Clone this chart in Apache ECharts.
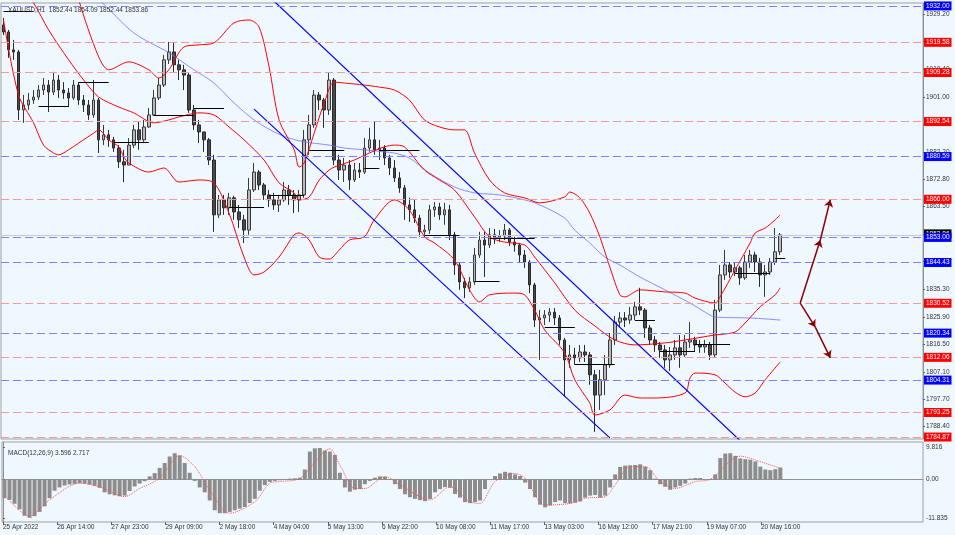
<!DOCTYPE html>
<html><head><meta charset="utf-8">
<script src="https://cdn.jsdelivr.net/npm/echarts@6/dist/echarts.min.js"></script>
<style>html,body{margin:0;padding:0;background:#f0f8ff;}#c{width:955px;height:535px;}</style>
</head><body><div id="c"></div>
<script>
const symbolTitle = 'XAUUSD,H1  1852.44 1854.09 1852.44 1853.86';
const macdTitle = 'MACD(12,26,9) 3.596 2.717';
const slotCount = 184;
// [open, close, low, high]
const candles = [
[1925.5,1923.1,1922.1,1927.9],[1923.1,1917.0,1914.3,1923.8],[1917.0,1916.3,1913.6,1920.4],[1916.3,1896.5,1893.1,1917.0],[1896.5,1898.2,1892.1,1901.6],
[1898.2,1899.9,1896.5,1902.3],[1899.9,1900.9,1898.6,1903.3],[1900.9,1903.3,1899.9,1905.0],[1903.3,1905.0,1901.6,1907.4],[1905.0,1902.6,1895.8,1906.7],
[1902.6,1906.7,1901.6,1909.5],[1906.7,1903.3,1900.6,1908.4],[1903.3,1902.3,1900.3,1906.0],[1902.3,1900.6,1897.5,1904.0],[1900.6,1905.0,1899.9,1906.7],
[1905.0,1899.9,1898.2,1906.0],[1899.9,1898.2,1895.8,1901.6],[1898.2,1894.8,1893.1,1899.9],[1894.8,1899.9,1893.8,1906.7],[1899.9,1886.3,1881.8,1900.6],
[1886.3,1888.0,1884.5,1891.4],[1888.0,1886.3,1883.9,1889.7],[1886.3,1883.5,1882.2,1887.3],[1883.5,1878.8,1876.7,1884.5],[1878.8,1877.7,1871.9,1882.9],
[1877.7,1884.5,1877.7,1886.9],[1884.5,1889.7,1883.5,1891.4],[1889.7,1886.3,1882.9,1892.4],[1886.3,1890.7,1885.6,1893.1],[1890.7,1894.8,1890.4,1897.2],
[1894.8,1900.6,1894.4,1903.3],[1900.6,1905.0,1899.9,1907.4],[1905.0,1913.6,1904.3,1915.3],[1913.6,1916.3,1912.2,1919.7],[1916.3,1911.9,1909.5,1919.7],
[1911.9,1910.2,1906.7,1913.6],[1910.2,1908.4,1903.3,1911.9],[1908.4,1896.5,1895.5,1909.1],[1896.5,1891.4,1889.7,1898.2],[1891.4,1889.0,1885.2,1893.1],
[1889.0,1886.3,1882.2,1889.0],[1886.3,1879.4,1877.7,1886.9],[1879.4,1860.7,1854.9,1881.2],[1860.7,1865.8,1859.6,1867.5],[1865.8,1863.1,1860.7,1867.5],
[1863.1,1866.5,1860.7,1868.2],[1866.5,1861.7,1859.0,1867.2],[1861.7,1859.0,1856.2,1864.1],[1859.0,1855.5,1851.1,1860.7],[1855.5,1869.2,1853.9,1873.3],
[1869.2,1875.3,1868.5,1878.4],[1875.3,1870.9,1869.2,1876.0],[1870.9,1867.5,1865.8,1871.6],[1867.5,1865.8,1863.4,1869.2],[1865.8,1864.1,1862.4,1868.2],
[1864.1,1865.8,1861.7,1867.5],[1865.8,1869.2,1865.1,1871.9],[1869.2,1867.5,1864.1,1870.9],[1867.5,1865.8,1861.3,1869.2],[1865.8,1867.5,1861.7,1869.2],
[1867.5,1886.3,1866.5,1889.7],[1886.3,1891.4,1881.2,1894.8],[1891.4,1901.6,1890.4,1903.3],[1901.6,1899.9,1896.5,1902.6],[1899.9,1896.5,1890.4,1900.6],
[1896.5,1906.7,1894.8,1909.1],[1906.7,1879.4,1877.7,1907.4],[1879.4,1876.0,1872.6,1881.2],[1876.0,1877.7,1871.9,1880.1],[1877.7,1872.6,1869.2,1879.4],
[1872.6,1876.0,1871.9,1878.4],[1876.0,1875.3,1873.3,1878.4],[1875.3,1883.5,1874.6,1886.9],[1883.5,1886.3,1882.2,1890.4],[1886.3,1882.9,1881.2,1892.4],
[1882.9,1883.5,1879.4,1886.3],[1883.5,1880.1,1877.7,1884.5],[1880.1,1876.7,1874.3,1881.2],[1876.7,1873.3,1871.9,1879.4],[1873.3,1869.9,1868.2,1875.3],
[1869.9,1864.1,1859.0,1870.9],[1864.1,1862.4,1858.3,1866.5],[1862.4,1859.6,1857.9,1865.8],[1859.6,1854.9,1853.2,1860.7],[1854.9,1855.5,1852.8,1857.3],
[1855.5,1862.4,1854.2,1864.1],[1862.4,1863.4,1860.0,1865.1],[1863.4,1860.7,1859.0,1864.8],[1860.7,1862.4,1857.3,1864.8],[1862.4,1853.9,1852.1,1864.1],
[1853.9,1843.6,1840.2,1854.9],[1843.6,1837.8,1835.1,1844.6],[1837.8,1835.8,1832.3,1839.2],[1835.8,1837.8,1834.4,1839.5],[1837.8,1847.0,1836.8,1849.4],
[1847.0,1852.1,1846.0,1854.9],[1852.1,1850.4,1839.5,1854.9],[1850.4,1853.9,1849.4,1856.2],[1853.9,1852.8,1850.8,1855.9],[1852.8,1853.5,1851.4,1855.5],
[1853.5,1855.5,1852.1,1857.6],[1855.5,1851.4,1850.1,1856.2],[1851.4,1850.4,1848.1,1853.2],[1850.4,1847.0,1844.6,1851.1],[1847.0,1844.6,1842.6,1848.7],
[1844.6,1836.8,1834.0,1845.3],[1836.8,1824.8,1822.4,1837.5],[1824.8,1825.5,1811.2,1828.2],[1825.5,1826.5,1823.1,1828.2],[1826.5,1827.5,1824.1,1828.9],
[1827.5,1825.5,1823.1,1828.9],[1825.5,1818.0,1816.3,1826.5],[1818.0,1811.2,1798.6,1818.7],[1811.2,1812.9,1808.5,1816.3],[1812.9,1811.9,1809.5,1815.3],
[1811.9,1813.9,1810.5,1816.3],[1813.9,1812.9,1810.5,1816.3],[1812.9,1806.1,1802.7,1813.9],[1806.1,1799.2,1786.6,1807.8],[1799.2,1804.4,1794.1,1807.8],
[1804.4,1809.5,1799.2,1812.9],[1809.5,1818.0,1808.5,1820.4],[1818.0,1824.1,1816.3,1826.2],[1824.1,1825.5,1822.4,1827.5],[1825.5,1824.8,1822.4,1827.5],
[1824.8,1826.5,1823.5,1829.3],[1826.5,1829.3,1824.8,1831.0],[1829.3,1828.2,1826.5,1835.8],[1828.2,1822.1,1818.7,1828.9],[1822.1,1818.0,1816.3,1823.1],
[1818.0,1816.3,1813.9,1819.4],[1816.3,1814.6,1811.9,1817.3],[1814.6,1811.2,1808.5,1816.3],[1811.2,1812.9,1807.4,1815.6],[1812.9,1815.3,1811.2,1818.0],
[1815.3,1812.9,1808.5,1819.7],[1812.9,1817.3,1812.2,1819.7],[1817.3,1818.0,1815.3,1824.1],[1818.0,1816.3,1813.9,1819.1],[1816.3,1815.6,1813.6,1818.0],
[1815.6,1816.3,1813.6,1818.0],[1816.3,1812.9,1811.2,1817.3],[1812.9,1828.2,1811.9,1831.7],[1828.2,1840.2,1827.5,1843.6],[1840.2,1843.6,1838.5,1848.7],
[1843.6,1841.2,1839.2,1844.6],[1841.2,1842.6,1839.8,1844.6],[1842.6,1839.2,1836.8,1843.3],[1839.2,1844.6,1838.5,1847.0],[1844.6,1847.0,1842.6,1848.7],
[1847.0,1844.6,1841.2,1848.1],[1844.6,1840.2,1836.1,1846.0],[1840.2,1841.2,1832.7,1843.6],[1841.2,1844.6,1840.2,1846.0],[1844.6,1848.1,1843.6,1856.2],
[1848.1,1853.86,1847.0,1854.5]
];
const bbUpper = [[14,1942.6],[15,1934.1],[19,1914.6],[21,1910.2],[25,1912.9],[29,1910.2],[31,1907.4],[33,1910.2],[36,1918.0],[39,1918.7],[42,1919.4],[46,1926.2],[49,1927.2],[51,1924.8],[53,1911.2],[55,1893.1],[58,1882.9],[59,1877.0],[60,1878.4],[62,1888.6],[64,1898.9],[66,1906.0],[68,1905.7],[72,1905.0],[75,1904.3],[78,1903.3],[81,1899.9],[84,1893.1],[87,1890.7],[90,1889.7],[92,1889.7],[94,1881.8],[97,1872.6],[100,1868.2],[104,1866.5],[107,1864.8],[112,1866.8],[113,1868.5],[115,1866.5],[117,1861.3],[119,1853.2],[121,1842.9],[123,1833.4],[124,1832.7],[127,1835.1],[132,1834.4],[136,1834.0],[138,1832.3],[142,1830.6],[143,1832.7],[146,1841.9],[149,1851.1],[150,1854.5],[152,1856.2],[154,1859.0],[155,1860.7]];
const bbMiddle = [[2,1941.6],[6,1933.0],[9,1923.8],[13,1913.6],[16,1906.7],[19,1900.9],[23,1897.5],[26,1895.5],[30,1892.1],[33,1893.1],[35,1894.1],[39,1895.5],[42,1894.8],[45,1890.7],[48,1886.3],[52,1879.4],[55,1871.6],[58,1868.2],[59,1865.8],[61,1866.8],[63,1872.6],[65,1876.0],[66,1877.0],[70,1879.4],[73,1881.8],[76,1883.9],[78,1884.5],[80,1883.9],[84,1876.0],[87,1872.6],[90,1869.2],[94,1860.0],[97,1853.2],[100,1851.4],[104,1850.4],[106,1846.3],[110,1837.5],[114,1828.2],[118,1822.8],[122,1818.0],[126,1816.3],[132,1817.0],[136,1818.0],[142,1819.7],[146,1820.7],[148,1823.8],[151,1829.3],[154,1833.4],[155,1835.8]];
const bbLower = [[0,1927.2],[3,1901.6],[6,1892.1],[8,1884.5],[10,1881.8],[11,1881.2],[13,1882.9],[15,1885.2],[18,1888.6],[19,1889.7],[21,1886.3],[23,1883.9],[24,1880.5],[25,1878.4],[29,1875.3],[32,1876.7],[35,1871.9],[39,1872.6],[42,1871.6],[45,1861.3],[48,1846.3],[50,1840.2],[52,1841.2],[55,1846.3],[58,1853.9],[59,1854.5],[61,1852.1],[63,1846.3],[65,1845.6],[67,1848.7],[69,1852.1],[72,1853.2],[74,1859.0],[78,1865.8],[81,1862.4],[84,1853.2],[86,1851.1],[90,1845.3],[93,1835.1],[95,1831.0],[97,1833.4],[102,1834.0],[104,1833.4],[106,1828.2],[108,1821.4],[112,1813.6],[114,1804.4],[117,1796.5],[118,1792.4],[121,1794.1],[124,1799.2],[127,1798.2],[130,1798.2],[136,1799.9],[137,1805.0],[138,1806.7],[142,1806.1],[144,1803.3],[146,1800.2],[148,1798.6],[150,1799.9],[152,1804.4],[155,1810.5]];
const maLine = [[15,1938.1],[19,1934.1],[26,1922.8],[33,1916.0],[38,1910.2],[42,1905.7],[46,1898.9],[50,1893.1],[54,1889.0],[57,1886.9],[60,1885.6],[65,1884.5],[68,1883.5],[72,1882.9],[76,1882.2],[78,1881.8],[81,1880.1],[85,1875.0],[90,1870.2],[94,1868.2],[99,1867.5],[104,1865.8],[107,1864.1],[112,1859.6],[114,1855.5],[117,1851.1],[120,1846.3],[123,1843.6],[127,1839.5],[132,1835.1],[137,1830.6],[141,1826.5],[142,1825.8],[149,1825.5],[155,1824.8]];
const priceTicks = [1929.20,1919.80,1910.40,1901.00,1891.60,1882.20,1872.80,1863.50,1854.10,1844.70,1835.30,1825.90,1816.50,1807.10,1797.70,1788.40];
const blueLevels = [1932.00,1880.59,1853.00,1844.43,1820.34,1804.31];
const redLevels = [1919.58,1909.28,1892.54,1866.00,1830.52,1812.06,1793.25,1784.87];
const bidPrice = 1853.86;
// [fromSlot, toSlot, price]
const segments = [[0,6,1930.3],[7,13,1897.9],[15,21,1906.1],[22,29,1885.6],[30,38,1894.8],[38,44,1897.2],[45,52,1863.4],[53,60,1867.5],[61,68,1882.9],[72,75,1876.7],[75,83,1882.9],[84,91,1853.8],[94,99,1838.1],[97,106,1852.8],[108,114,1822.4],[114,122,1809.8],[126,130,1824.8],[131,138,1814.3],[138,145,1816.6],[146,153,1840.9],[154,156,1846.0]];
const channelUpper = [[54,1933.6],[147,1783.65]];
const channelLower = [[50,1896.8],[121,1784.6]];
const arrowUp = [[159,1830.6],[163,1852.1],[165,1865.8]];
const arrowDown = [[159,1830.6],[162,1822.4],[165,1811.9]];
const macdHist = [-5.8,-6.3,-7.5,-9.2,-11.2,-11.8,-11.3,-10.0,-8.3,-5.8,
-3.5,-2.5,-1.9,-1.6,-1.4,-1.2,-1.3,-1.6,-2.0,-2.6,
-4.0,-4.6,-4.9,-5.2,-5.0,-3.6,-2.2,-1.3,-0.6,0.9,
1.9,3.5,5.0,7.0,8.0,7.3,5.0,2.0,-0.5,-2.5,
-4.0,-6.5,-9.5,-10.4,-10.4,-10.0,-9.5,-9.0,-8.5,-7.3,
-6.0,-3.5,-1.8,-0.8,-0.5,-0.3,-0.1,0.2,0.3,0.5,
3.0,8.5,9.5,9.6,8.8,8.5,7.5,2.0,-2.5,-3.8,
-3.2,-3.0,-1.5,-0.5,0.5,0.9,0.8,0.0,-1.5,-3.0,
-4.6,-5.5,-6.0,-6.4,-6.7,-6.0,-4.0,-3.0,-2.4,-2.6,
-4.5,-5.6,-7.0,-7.3,-7.0,-6.5,-3.0,0.0,1.0,1.8,
2.3,2.0,1.5,1.0,-1.0,-3.0,-5.5,-7.8,-8.6,-8.0,
-7.0,-6.5,-7.3,-7.4,-7.2,-6.8,-5.6,-5.0,-4.8,-5.6,
-5.0,-2.5,1.5,3.8,4.2,4.3,4.4,4.6,3.8,2.8,
0.2,-1.5,-2.3,-3.2,-2.5,-2.0,-1.3,0.2,0.4,0.4,
0.0,-0.1,1.5,6.5,7.9,8.0,7.2,6.4,6.2,6.0,
5.5,3.9,3.0,2.8,3.1,3.6];
const macdSignal = [[0,-4.8],[5,-11.3],[9,-6.3],[15,-1.2],[19,-2.3],[24,-5.3],[27,-2.8],[31,0.3],[35,7.3],[38,3.9],[41,-3.3],[45,-10.4],[50,-6.9],[53,-1.2],[55,-0.7],[59,0.3],[65,9.3],[67,4.4],[70,-2.8],[72,-2.8],[76,0.8],[79,-1.7],[85,-6.3],[89,-2.3],[93,-6.9],[95,-7.4],[98,-0.7],[102,1.8],[104,0.3],[108,-7.9],[113,-7.4],[116,-5.8],[120,-5.3],[122,-1.7],[125,3.9],[128,3.9],[131,-0.7],[134,-2.8],[138,-0.7],[141,0.0],[147,7.1],[151,5.4],[155,3.4]];
const macdTicks = [9.816, 0, -11.835];
const timeTickHours = [0,33,66,99,132,165,198,231,264,297,330,363,396,429,462];
const timeTickLabels = ['25 Apr 2022','26 Apr 14:00','27 Apr 23:00','29 Apr 09:00','2 May 18:00','4 May 04:00','5 May 13:00','6 May 22:00','10 May 08:00','11 May 17:00','13 May 03:00','16 May 12:00','17 May 21:00','19 May 07:00','20 May 16:00'];

const FONT = 'Liberation Sans';
const FS = 6.5;
const categories = Array.from({length: slotCount}, (_, i) => i);

function levelItem(v, lineColor, boxColor) {
  return {
    yAxis: v,
    lineStyle: {color: lineColor, type: [8, 4], width: 1},
    label: {show: true, position: 'end', distance: 1, formatter: v.toFixed(2),
      backgroundColor: boxColor, color: '#fff', fontSize: FS, fontFamily: FONT,
      padding: [1, 2, 0, 2], lineHeight: 8}
  };
}
const levelData = [];
redLevels.forEach(v => levelData.push(levelItem(v, '#f29a9a', '#ff0000')));
blueLevels.forEach(v => levelData.push(levelItem(v, '#8080ff', '#0000ff')));
segments.forEach(s => levelData.push([
  {coord: [s[0], s[2]], lineStyle: {color: '#000', type: 'solid', width: 1}, label: {show: false}},
  {coord: [s[1], s[2]]}
]));
function arrowItems(pts) {
  const out = [];
  for (let i = 0; i < pts.length - 1; i++) {
    out.push([
      {coord: pts[i], symbol: 'none', lineStyle: {color: '#8b0000', type: 'solid', width: 1.5}, label: {show: false}},
      {coord: pts[i + 1], symbol: 'arrow', symbolSize: 7}
    ]);
  }
  return out;
}
arrowItems(arrowUp).forEach(a => levelData.push(a));
arrowItems(arrowDown).forEach(a => levelData.push(a));

const chart = echarts.init(document.getElementById('c'), null, {renderer: 'canvas'});
chart.setOption({
  animation: false,
  backgroundColor: '#f0f8ff',
  title: [
    {text: symbolTitle, left: 3, top: 2, textStyle: {fontSize: FS, fontWeight: 'normal', color: '#333', fontFamily: FONT}},
    {text: macdTitle, left: 3, top: 445, textStyle: {fontSize: FS, fontWeight: 'normal', color: '#333', fontFamily: FONT}}
  ],
  grid: [
    {left: 1, right: 32, top: 3, height: 436, show: true, borderColor: '#a0a0a0', borderWidth: 1, backgroundColor: 'transparent'},
    {left: 1, right: 32, top: 442, height: 80, show: true, borderColor: '#a0a0a0', borderWidth: 1, backgroundColor: 'transparent'}
  ],
  xAxis: [
    {type: 'category', gridIndex: 0, data: categories, boundaryGap: true, axisLine: {show: false}, axisTick: {show: false}, axisLabel: {show: false}, splitLine: {show: false}},
    {type: 'category', gridIndex: 1, data: categories, boundaryGap: true, axisLine: {show: true, lineStyle: {color: '#909090'}}, axisTick: {show: false}, axisLabel: {show: false}, splitLine: {show: false}},
    {type: 'value', gridIndex: 1, position: 'bottom', min: -0.61, max: 560.77,
      axisLine: {show: false},
      axisTick: {show: true, customValues: timeTickHours, length: 3, lineStyle: {color: '#606060'}},
      axisLabel: {show: true, customValues: timeTickHours, formatter: v => timeTickLabels[timeTickHours.indexOf(v)] || '', align: 'left', margin: 2, fontSize: FS, color: '#333', fontFamily: FONT},
      splitLine: {show: false}}
  ],
  yAxis: [
    {type: 'value', gridIndex: 0, position: 'right', min: 1784.2, max: 1933.0, scale: true,
      axisLine: {show: true, lineStyle: {color: '#909090'}},
      axisTick: {show: true, customValues: priceTicks, length: 2, lineStyle: {color: '#606060'}},
      axisLabel: {show: true, customValues: priceTicks, formatter: v => v.toFixed(2), margin: 3, fontSize: FS, color: '#333', fontFamily: FONT},
      splitLine: {show: false}},
    {type: 'value', gridIndex: 1, position: 'right', min: -13.1, max: 11.44,
      axisLine: {show: true, lineStyle: {color: '#909090'}},
      axisTick: {show: true, customValues: macdTicks, length: 2, lineStyle: {color: '#606060'}},
      axisLabel: {show: true, customValues: macdTicks, formatter: v => v === 0 ? '0.00' : String(v), margin: 3, fontSize: FS, color: '#333', fontFamily: FONT},
      splitLine: {show: false}}
  ],
  series: [
    {type: 'line', name: 'bid', xAxisIndex: 0, yAxisIndex: 0, data: [], clip: false, silent: true,
      markLine: {silent: true, symbol: 'none', z: 3, animation: false, data: [{
        yAxis: bidPrice, lineStyle: {color: '#c8c8c8', type: 'solid', width: 1},
        label: {show: true, position: 'end', distance: 1, formatter: bidPrice.toFixed(2), backgroundColor: '#000', color: '#fff', fontSize: FS, fontFamily: FONT, padding: [1, 2, 0, 2], lineHeight: 8, offset: [0, -1]}
      }]}},
    {type: 'line', name: 'MA', xAxisIndex: 0, yAxisIndex: 0, data: maLine, showSymbol: false, smooth: 0.3, lineStyle: {color: '#7070ff', width: 0.8}, silent: true},
    {type: 'line', name: 'BB upper', xAxisIndex: 0, yAxisIndex: 0, data: bbUpper, showSymbol: false, smooth: 0.3, lineStyle: {color: '#ff0000', width: 1}, silent: true},
    {type: 'line', name: 'BB middle', xAxisIndex: 0, yAxisIndex: 0, data: bbMiddle, showSymbol: false, smooth: 0.3, lineStyle: {color: '#ff0000', width: 1}, silent: true},
    {type: 'line', name: 'BB lower', xAxisIndex: 0, yAxisIndex: 0, data: bbLower, showSymbol: false, smooth: 0.3, lineStyle: {color: '#ff0000', width: 1}, silent: true},
    {type: 'line', name: 'channel upper', xAxisIndex: 0, yAxisIndex: 0, data: channelUpper, showSymbol: false, lineStyle: {color: '#0000ff', width: 1.2}, silent: true},
    {type: 'line', name: 'channel lower', xAxisIndex: 0, yAxisIndex: 0, data: channelLower, showSymbol: false, lineStyle: {color: '#0000ff', width: 1.2}, silent: true},
    {type: 'candlestick', name: 'XAUUSD', xAxisIndex: 0, yAxisIndex: 0, data: candles, barWidth: 3,
      itemStyle: {color: '#b8b8b8', color0: '#4a4a4a', borderColor: '#3a3a3a', borderColor0: '#2a2a2a', borderWidth: 1}, silent: true},
    {type: 'line', name: 'levels', xAxisIndex: 0, yAxisIndex: 0, data: [], clip: false, silent: true,
      markLine: {silent: true, symbol: 'none', z: 6, animation: false, data: levelData}},
    {type: 'bar', name: 'MACD', xAxisIndex: 1, yAxisIndex: 1, data: macdHist, barWidth: 4, itemStyle: {color: '#8c8c8c'}, silent: true},
    {type: 'line', name: 'Signal', xAxisIndex: 1, yAxisIndex: 1, data: macdSignal, showSymbol: false, smooth: 0.3, lineStyle: {color: '#ff5050', width: 1, type: 'dotted'}, silent: true}
  ]
});
</script></body></html>
